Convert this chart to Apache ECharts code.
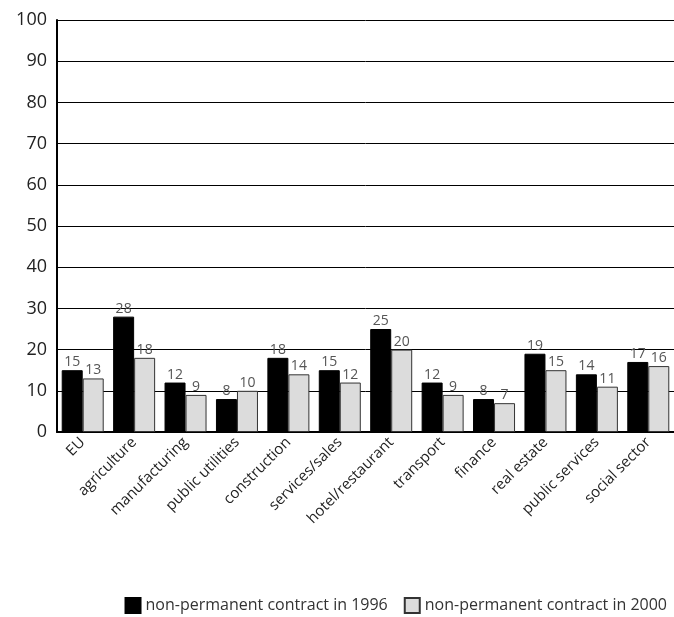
<!DOCTYPE html>
<html>
<head>
<meta charset="utf-8">
<script src="https://cdn.jsdelivr.net/npm/echarts@6/dist/echarts.min.js"></script>
<style>
  html, body { margin: 0; padding: 0; background: #fff; }
  #chart { width: 674px; height: 617px; }
</style>
</head>
<body>
<div id="chart"></div>
<script>
var categories = ["EU", "agriculture", "manufacturing", "public utilities", "construction",
  "services/sales", "hotel/restaurant", "transport", "finance", "real estate",
  "public services", "social sector"];
var values1996 = [15, 28, 12, 8, 18, 15, 25, 12, 8, 19, 14, 17];
var values2000 = [13, 18, 9, 10, 14, 12, 20, 9, 7, 15, 11, 16];
var yTicks = [0, 10, 20, 30, 40, 50, 60, 70, 80, 90, 100];

var myChart = echarts.init(document.getElementById("chart"));
var font = "'Open Sans', sans-serif";
var labelStyle = {
  show: true,
  position: "top",
  distance: 1,
  color: "#555",
  fontSize: 14,
  fontFamily: font,
};
var option = {
  animation: false,
  grid: { left: 57, right: 0, top: 20, bottom: 185 },
  legend: {
    bottom: 0,
    right: 4,
    padding: 3,
    icon: "rect",
    itemWidth: 15,
    itemHeight: 15,
    itemGap: 16,
    textStyle: { color: "#333", fontSize: 16, fontFamily: font },
    data: ["non-permanent contract in 1996", "non-permanent contract in 2000"],
  },
  xAxis: {
    type: "category",
    data: categories,
    axisLine: { lineStyle: { color: "#000", width: 2 } },
    axisTick: { show: false },
    axisLabel: {
      rotate: 45,
      interval: 0,
      color: "#222",
      fontSize: 15,
      fontFamily: font,
      margin: 8,
    },
  },
  yAxis: {
    type: "value",
    min: yTicks[0],
    max: yTicks[yTicks.length - 1],
    interval: 10,
    axisLine: { show: true, lineStyle: { color: "#000", width: 2 } },
    axisTick: { show: false },
    splitLine: { lineStyle: { color: "#000", width: 1 } },
    axisLabel: { color: "#222", fontSize: 18, fontFamily: font, margin: 10 },
  },
  series: [
    {
      name: "non-permanent contract in 1996",
      type: "bar",
      data: values1996,
      barWidth: 21,
      barGap: "0%",
      itemStyle: { color: "#000", borderColor: "#000", borderWidth: 1 },
      label: labelStyle,
    },
    {
      name: "non-permanent contract in 2000",
      type: "bar",
      data: values2000,
      barWidth: 21,
      itemStyle: { color: "#dcdcdc", borderColor: "#333", borderWidth: 1 },
      label: labelStyle,
    },
  ],
};
myChart.setOption(option);
</script>
</body>
</html>
